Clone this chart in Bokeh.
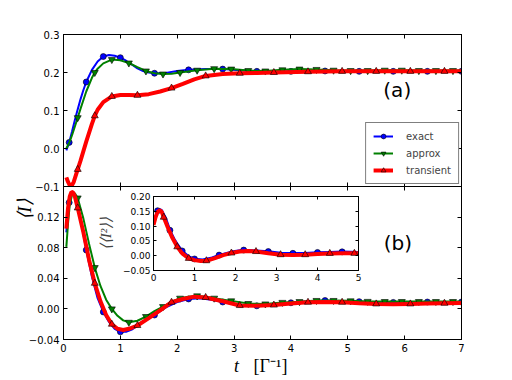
import math
from bokeh.plotting import figure
from bokeh.models import (Range1d, LinearAxis, FixedTicker, Legend, LegendItem,
                          Label, Column, CustomJSTickFormatter)
from bokeh.embed import file_html
from bokeh.resources import INLINE

# ---------------- data ----------------
x_ticks = [0, 1, 2, 3, 4, 5, 6, 7]
x_labels = ["0", "1", "2", "3", "4", "5", "6", "7"]
ya_ticks = [-0.1, 0.0, 0.1, 0.2, 0.3]
ya_labels = ["\u22120.1", "0.0", "0.1", "0.2", "0.3"]
yb_ticks = [-0.04, 0.0, 0.04, 0.08, 0.12]
yb_labels = ["\u22120.04", "0.00", "0.04", "0.08", "0.12"]
xi_ticks = [0, 1, 2, 3, 4, 5]
xi_labels = ["0", "1", "2", "3", "4", "5"]
yi_ticks = [-0.05, 0.0, 0.05, 0.10, 0.15, 0.20]
yi_labels = ["\u22120.05", "0.00", "0.05", "0.10", "0.15", "0.20"]

# panel (a)
ta_exact = [0.05, 0.1, 0.15, 0.2, 0.25, 0.3, 0.35, 0.4, 0.5, 0.6, 0.7, 0.8, 0.9, 1.0,
            1.1, 1.2, 1.3, 1.4, 1.5, 1.6, 1.8, 2.0, 2.2, 2.5, 2.8, 3.1, 3.4, 3.7, 4.0,
            4.3, 4.6, 4.9, 5.2, 5.5, 5.8, 6.1, 6.4, 6.7, 7.0]
ya_exact = [-0.005, 0.016, 0.045, 0.075, 0.103, 0.13, 0.154, 0.175, 0.207, 0.229, 0.242,
            0.246, 0.244, 0.239, 0.231, 0.221, 0.211, 0.204, 0.2, 0.198, 0.199, 0.204,
            0.207, 0.209, 0.209, 0.206, 0.203, 0.202, 0.203, 0.204, 0.204, 0.204, 0.203,
            0.203, 0.203, 0.203, 0.203, 0.203, 0.203]
ta_approx = [0.05, 0.1, 0.15, 0.2, 0.25, 0.3, 0.4, 0.5, 0.55, 0.6, 0.7, 0.85, 1.0, 1.15,
             1.3, 1.45, 1.6, 1.75, 1.9, 2.05, 2.35, 2.65, 2.95, 3.25, 3.55, 3.85, 4.15,
             4.45, 4.75, 5.05, 5.35, 5.65, 5.95, 6.25, 6.55, 6.85, 7.0]
ya_approx = [0.0, 0.015, 0.035, 0.058, 0.081, 0.105, 0.15, 0.186, 0.2, 0.21, 0.224, 0.234,
             0.232, 0.225, 0.214, 0.204, 0.198, 0.196, 0.197, 0.2, 0.206, 0.21, 0.209,
             0.205, 0.204, 0.207, 0.209, 0.208, 0.206, 0.205, 0.205, 0.206, 0.206, 0.205,
             0.205, 0.205, 0.205]
ta_trans = [0.05, 0.08, 0.11, 0.14, 0.18, 0.25, 0.3, 0.4, 0.5, 0.55, 0.6, 0.7, 0.85, 1.0,
            1.15, 1.3, 1.5, 1.7, 1.9, 2.1, 2.3, 2.5, 2.8, 3.1, 3.4, 3.7, 4.3, 4.9, 5.5,
            6.1, 6.7, 7.0]
ya_trans = [-0.076, -0.088, -0.097, -0.099, -0.088, -0.055, -0.032, 0.018, 0.065, 0.086,
            0.102, 0.122, 0.137, 0.141, 0.141, 0.14, 0.143, 0.15, 0.159, 0.17, 0.182,
            0.191, 0.196, 0.198, 0.199, 0.2, 0.202, 0.203, 0.203, 0.203, 0.203, 0.203]

# panel (b)
tb_exact = [0.05, 0.08, 0.1, 0.13, 0.16, 0.2, 0.25, 0.3, 0.4, 0.5, 0.6, 0.7, 0.8, 0.9,
            1.0, 1.1, 1.2, 1.3, 1.45, 1.6, 1.8, 2.0, 2.2, 2.4, 2.6, 2.8, 3.1, 3.4, 3.7,
            4.0, 4.3, 4.6, 4.9, 5.2, 5.5, 5.8, 6.1, 6.4, 6.7, 7.0]
yb_exact = [0.100, 0.128, 0.139, 0.149, 0.152, 0.148, 0.135, 0.118, 0.077, 0.042, 0.014,
            -0.004, -0.017, -0.026, -0.030, -0.030, -0.027, -0.022, -0.015, -0.008, 0.002,
            0.009, 0.013, 0.014, 0.012, 0.009, 0.005, 0.004, 0.005, 0.008, 0.010, 0.011,
            0.010, 0.0095, 0.009, 0.0085, 0.0085, 0.009, 0.009, 0.009]
tb_approx = [0.05, 0.08, 0.11, 0.15, 0.2, 0.25, 0.35, 0.45, 0.55, 0.65, 0.75, 0.85, 0.95,
             1.05, 1.15, 1.3, 1.45, 1.6, 1.75, 1.9, 2.05, 2.2, 2.35, 2.5, 2.65, 2.95, 3.25,
             3.55, 3.85, 4.15, 4.45, 4.75, 5.05, 5.35, 5.65, 5.95, 6.25, 6.55, 6.85, 7.0]
yb_approx = [0.081, 0.112, 0.136, 0.149, 0.151, 0.145, 0.118, 0.085, 0.054, 0.030, 0.012,
             0.0, -0.009, -0.015, -0.0175, -0.0155, -0.010, -0.003, 0.003, 0.009, 0.014,
             0.016, 0.017, 0.016, 0.014, 0.0105, 0.007, 0.0065, 0.0085, 0.0095, 0.011,
             0.011, 0.0105, 0.0098, 0.0096, 0.0096, 0.0096, 0.0096, 0.0096, 0.0096]
tb_trans = [0.05, 0.08, 0.11, 0.14, 0.17, 0.2, 0.25, 0.35, 0.45, 0.55, 0.65, 0.75, 0.85,
            0.95, 1.05, 1.15, 1.3, 1.5, 1.7, 1.9, 2.1, 2.3, 2.5, 2.8, 3.1, 3.4, 3.7, 4.0,
            4.3, 4.6, 4.9, 5.2, 5.5, 5.8, 6.1, 6.4, 6.7, 7.0]
yb_trans = [0.105, 0.132, 0.147, 0.153, 0.152, 0.147, 0.132, 0.100, 0.064, 0.0335, 0.010,
            -0.008, -0.020, -0.026, -0.0275, -0.026, -0.0217, -0.012, -0.002, 0.0087, 0.013,
            0.016, 0.015, 0.010, 0.0044, 0.004, 0.005, 0.007, 0.0087, 0.009, 0.0087, 0.0075,
            0.0065, 0.006, 0.0065, 0.007, 0.0074, 0.0078]

# inset <<I^2>>
ti_exact = [0.05, 0.1, 0.15, 0.2, 0.3, 0.4, 0.5, 0.6, 0.7, 0.85, 1.0, 1.2, 1.4, 1.6, 1.9,
            2.2, 2.5, 2.8, 3.1, 3.4, 3.7, 4.0, 4.3, 4.6, 5.0]
yi_exact = [0.13, 0.152, 0.157, 0.153, 0.126, 0.086, 0.058, 0.035, 0.016, -0.002, -0.011,
            -0.014, -0.008, 0.002, 0.013, 0.019, 0.017, 0.014, 0.009, 0.008, 0.008, 0.011,
            0.012, 0.013, 0.012]
ti_trans = [0.0, 0.05, 0.1, 0.155, 0.2, 0.25, 0.35, 0.45, 0.58, 0.7, 0.86, 1.0, 1.15, 1.29,
            1.5, 1.7, 1.9, 2.1, 2.3, 2.5, 2.8, 3.1, 3.4, 3.7, 4.0, 4.3, 4.6, 4.9, 5.0]
yi_trans = [0.104, 0.13, 0.148, 0.154, 0.148, 0.13, 0.095, 0.063, 0.03, 0.008, -0.009,
            -0.015, -0.018, -0.017, -0.008, 0.002, 0.009, 0.014, 0.016, 0.014, 0.008, 0.0034,
            0.002, 0.0034, 0.006, 0.0078, 0.008, 0.008, 0.008]

# times at which markers are drawn
mk_exact = [0.1, 0.4, 0.7, 1.0, 1.6, 2.2, 2.8, 3.4, 4.0, 4.6, 5.2, 5.8, 6.4, 7.0]
mk_approx = [0.25, 0.55, 0.85, 1.15, 1.45, 1.75, 2.05, 2.35, 2.65, 2.95, 3.25, 3.55, 3.85,
             4.15, 4.45, 4.75, 5.05, 5.35, 5.65, 5.95, 6.25, 6.55, 6.85]
mk_trans = [0.25, 0.55, 0.85, 1.3, 1.9, 2.5, 3.1, 3.7, 4.3, 4.9, 5.5, 6.1, 6.7]
mk_in_exact = [0.1, 0.4, 0.7, 1.0, 1.6, 2.2, 2.8, 3.4, 4.0, 4.6]
mk_in_trans = [0.25, 0.58, 0.86, 1.29, 1.9, 2.5, 3.1, 3.7, 4.3, 4.9]

# ---------------- styling ----------------
BLUE, GREEN, RED = "#0000ff", "#008000", "#ff0000"
SANS = "DejaVu Sans"
SERIF = "Liberation Serif"

FMT_CODE = """
let best = 0;
for (let i = 0; i < vals.length; i++) {
    if (Math.abs(vals[i] - tick) < Math.abs(vals[best] - tick)) best = i;
}
return labels[best];
"""


def pick(ts, ys, mt):
    d = {round(t, 3): y for t, y in zip(ts, ys)}
    return list(mt), [d[round(t, 3)] for t in mt]


def make_fig(w, h, bl, bt, br, bb, xr, yr):
    p = figure(width=w, height=h, x_range=Range1d(*xr), y_range=Range1d(*yr),
               output_backend="svg", toolbar_location=None,
               x_axis_location=None, y_axis_location=None,
               min_border_left=bl, min_border_top=bt,
               min_border_right=br, min_border_bottom=bb)
    p.frame_align = False
    p.xgrid.visible = False
    p.ygrid.visible = False
    p.background_fill_color = "white"
    p.border_fill_color = None
    p.outline_line_color = "black"
    p.outline_line_width = 1
    return p


def add_axis(p, side, ticks, labels=None, size="10px", standoff=4, tick=4):
    ax = LinearAxis(ticker=FixedTicker(ticks=ticks), major_tick_in=tick, major_tick_out=0,
                    minor_tick_in=0, minor_tick_out=0, axis_line_color="black",
                    major_tick_line_color="black")
    if labels is None:
        # tick marks only, no labels drawn
        ax.major_label_text_color = None
        ax.major_label_text_font_size = "1px"
        ax.major_label_standoff = 0
    else:
        ax.formatter = CustomJSTickFormatter(args=dict(vals=list(ticks), labels=list(labels)),
                                             code=FMT_CODE)
        ax.major_label_text_font = SANS
        ax.major_label_text_font_size = size
        ax.major_label_text_color = "black"
        ax.major_label_standoff = standoff
    p.add_layout(ax, side)
    return ax


def series(p, t, y, mt, color, lw, marker, msize):
    r1 = p.line(t, y, line_color=color, line_width=lw)
    mx, my = pick(t, y, mt)
    r2 = p.scatter(mx, my, marker=marker, size=msize, fill_color=color,
                   line_color="black", line_width=0.6)
    return [r1, r2]


def title_fig(w, h, side, text, style, size, bl=0, bt=0, br=0, bb=0, standoff=0):
    """A transparent helper figure whose only content is one axis title."""
    p = figure(width=w, height=h, x_range=Range1d(0, 1), y_range=Range1d(0, 1),
               output_backend="svg", toolbar_location=None,
               x_axis_location=None, y_axis_location=None,
               min_border_left=bl, min_border_top=bt, min_border_right=br,
               min_border_bottom=bb)
    p.frame_align = False
    p.xgrid.visible = False
    p.ygrid.visible = False
    p.outline_line_color = None
    p.background_fill_color = None
    p.border_fill_color = None
    ax = LinearAxis(ticker=FixedTicker(ticks=[]), axis_line_color=None,
                    major_tick_line_color=None, minor_tick_line_color=None,
                    major_tick_in=0, major_tick_out=0, minor_tick_in=0, minor_tick_out=0,
                    major_label_standoff=0, major_label_text_font_size="1px",
                    axis_label=text, axis_label_text_font=SERIF,
                    axis_label_text_font_style=style, axis_label_text_font_size=size,
                    axis_label_standoff=standoff, axis_label_text_color="black")
    p.add_layout(ax, side)
    return p


# ---------------- panel (a) ----------------
pa = make_fig(483, 188, 55, 26, 30, 10, (0, 7), (-0.1, 0.3))
add_axis(pa, "left", ya_ticks, ya_labels)
add_axis(pa, "right", ya_ticks)
add_axis(pa, "below", x_ticks)
add_axis(pa, "above", x_ticks)
ra_e = series(pa, ta_exact, ya_exact, mk_exact, BLUE, 2, "circle", 6)
ra_a = series(pa, ta_approx, ya_approx, mk_approx, GREEN, 2, "inverted_triangle", 7)
ra_t = series(pa, ta_trans, ya_trans, mk_trans, RED, 4, "triangle", 7)
legend = Legend(items=[LegendItem(label="exact", renderers=ra_e),
                       LegendItem(label="approx", renderers=ra_a),
                       LegendItem(label="transient", renderers=ra_t)],
                location="bottom_right", margin=2, padding=7, spacing=5,
                glyph_width=20, glyph_height=12, label_height=12, label_standoff=13,
                label_text_font=SANS, label_text_font_size="10px",
                border_line_color="black", border_line_width=1,
                background_fill_color="white", background_fill_alpha=1.0)
pa.add_layout(legend)
pa.add_layout(Label(x=5.87, y=0.155, text="(a)", text_font=SANS, text_font_size="20px",
                    text_align="center", text_baseline="middle", text_color="black"))

# ---------------- panel (b) ----------------
pb = make_fig(483, 196, 55, 10, 30, 33, (0, 7), (-0.04, 0.16))
add_axis(pb, "left", yb_ticks, yb_labels)
add_axis(pb, "right", yb_ticks)
add_axis(pb, "below", x_ticks, x_labels)
add_axis(pb, "above", x_ticks)
series(pb, tb_exact, yb_exact, mk_exact, BLUE, 2, "circle", 6)
series(pb, tb_approx, yb_approx, mk_approx, GREEN, 2, "inverted_triangle", 7)
series(pb, tb_trans, yb_trans, mk_trans, RED, 4, "triangle", 7)
pb.add_layout(Label(x=5.88, y=0.086, text="(b)", text_font=SANS, text_font_size="20px",
                    text_align="center", text_baseline="middle", text_color="black"))

# ---------------- inset ----------------
pin = make_fig(275, 101, 62, 5, 8, 22, (0, 5), (-0.05, 0.2))
ax_il = add_axis(pin, "left", yi_ticks, yi_labels, size="9px", standoff=3, tick=3)
ax_il.axis_label = "\u27e8\u27e8I\u00b2\u27e9\u27e9"
ax_il.axis_label_text_font = SERIF
ax_il.axis_label_text_font_style = "italic"
ax_il.axis_label_text_font_size = "15px"
ax_il.axis_label_standoff = 6
add_axis(pin, "right", yi_ticks, tick=3)
add_axis(pin, "below", xi_ticks, xi_labels, size="9px", standoff=3, tick=3)
add_axis(pin, "above", xi_ticks, tick=3)
series(pin, ti_exact, yi_exact, mk_in_exact, BLUE, 2.5, "circle", 6)
series(pin, ti_trans, yi_trans, mk_in_trans, RED, 4, "triangle", 7)

# ---------------- axis titles (transparent helper figures) ----------------
ylab = title_fig(160, 100, "left", "\u27e8I\u27e9", "italic", "19px", bl=26)
xlab_t = title_fig(200, 78, "below", "t", "italic", "18px", bb=22)
xlab_u = title_fig(200, 78, "below", "[\u0393\u207b\u00b9]", "normal", "18px", bb=22)

# ---------------- layout (absolute, page coordinates) ----------------
placements = ((pa, (8, 8)), (pb, (8, 176)), (pin, (91, 191)),
              (ylab, (8, 159)), (xlab_t, (136, 300)), (xlab_u, (170, 300)))
for fig, (left, top) in placements:
    fig.styles = {"position": "absolute", "left": f"{left}px", "top": f"{top}px"}

root = Column(children=[pa, pb, pin, ylab, xlab_t, xlab_u], width=496, height=364)

open("out.html", "w").write(file_html(root, INLINE))
